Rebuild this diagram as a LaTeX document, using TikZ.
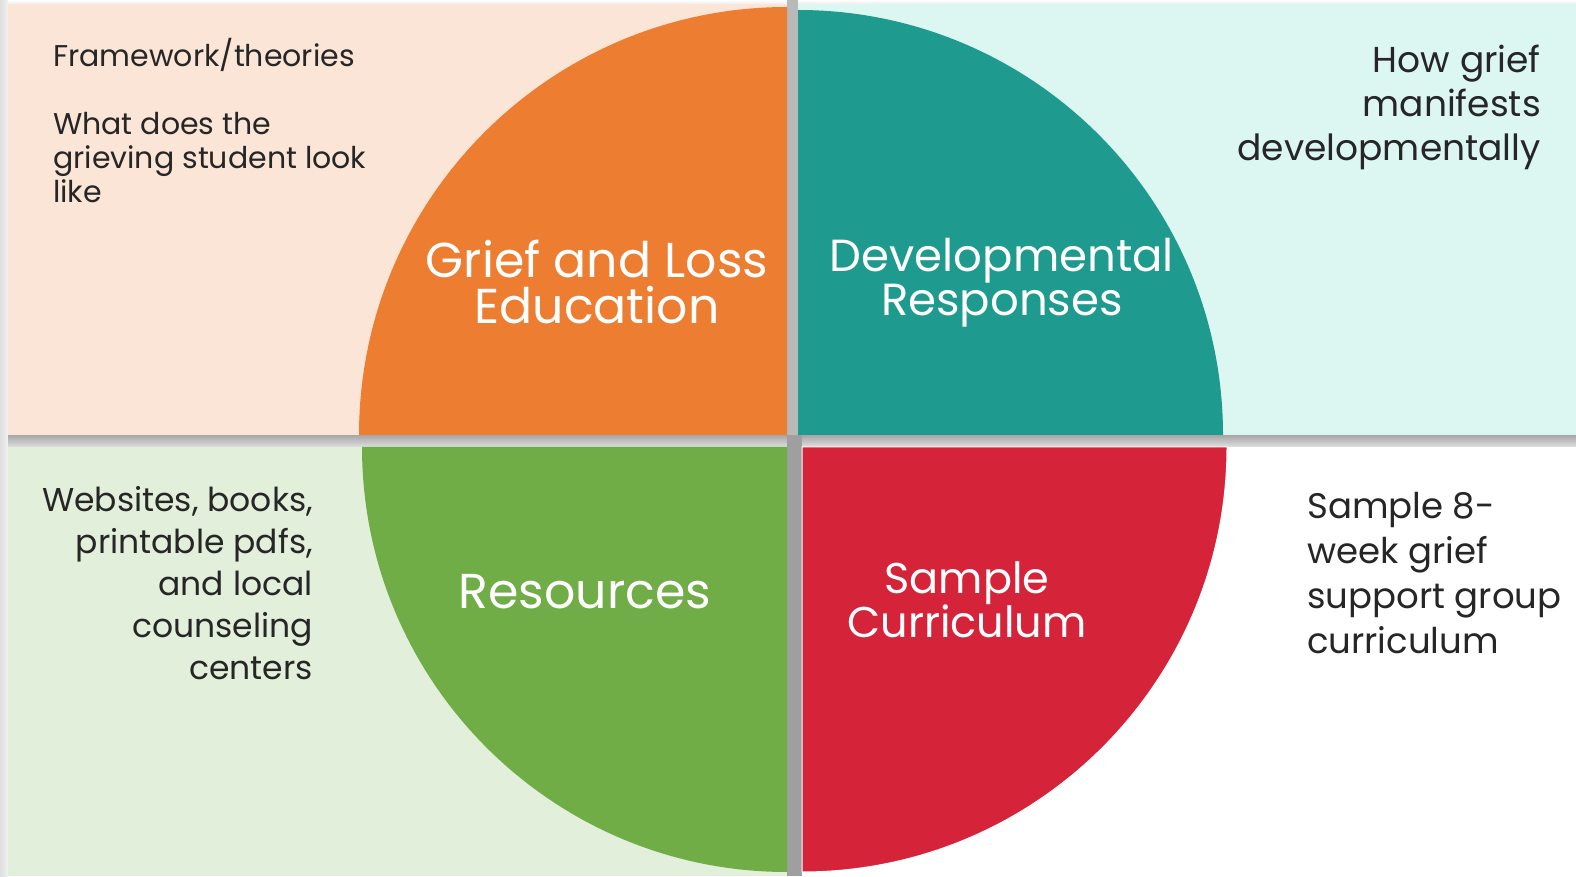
\documentclass[tikz,border=0pt]{standalone}
\usepackage{fontspec}
\setmainfont{Poppins}
\definecolor{peach}{HTML}{FBE5D7}
\definecolor{mint}{HTML}{DCF6F2}
\definecolor{sage}{HTML}{E2EFDA}
\definecolor{qorange}{HTML}{ED7D31}
\definecolor{qteal}{HTML}{1F9A8E}
\definecolor{qgreen}{HTML}{70AD47}
\definecolor{qred}{HTML}{D5243A}
\definecolor{inkgray}{HTML}{262626}
\tikzset{
  sidetext/.style={text=inkgray,inner sep=0pt},
  quartertext/.style={text=white,align=center,inner sep=0pt,font=\fontsize{49}{46}\selectfont}
}
\begin{document}
\begin{tikzpicture}[x=1pt,y=1pt]
  \useasboundingbox (0,0) rectangle (1576,876);
  % backdrop and shadows
  \fill[white] (0,0) rectangle (1576,876);
  \shade[left color=gray!25,right color=gray!12] (0,0) rectangle (8,876);
  \shade[top color=white,bottom color=gray!15] (8,872) rectangle (1576,876);
  \shade[top color=gray!70,bottom color=gray!25] (8,429) rectangle (1576,441);
  \fill[gray!75] (787,0) rectangle (802,441);
  \fill[gray!55] (787,441) rectangle (798,876);

  % quadrant panels
  \fill[peach] (8,441) rectangle (787,872);
  \fill[mint] (798,441) rectangle (1576,872);
  \fill[sage] (8,0) rectangle (787,429);

  % quarter discs
  \fill[qorange] (787,441) -- (359,441) arc[start angle=180,end angle=90,radius=428] -- cycle;
  \fill[qteal] (798,441) -- (1223,441) arc[start angle=0,end angle=90,radius=425] -- cycle;
  \fill[qgreen] (787,429) -- (362,429) arc[start angle=180,end angle=270,radius=425] -- cycle;
  \fill[qred,draw=white,line width=1pt] (802,429) -- (1227,429) arc[start angle=0,end angle=-90,radius=425] -- cycle;

  % quarter titles
  \node[quartertext] (grief) at (597,594) {Grief and Loss\\Education};
  \node[quartertext,font=\fontsize{45}{43}\selectfont] (devel) at (1002,593) {Developmental\\Responses};
  \node[quartertext] (resources) at (585,284) {Resources};
  \node[quartertext,font=\fontsize{43}{44}\selectfont] (curric) at (967,276) {Sample\\Curriculum};

  % side notes
  \node[sidetext,anchor=north west,align=left,font=\fontsize{30}{34}\selectfont] (framework) at (53,838)
    {Framework/theories\\[34pt]What does the\\grieving student look\\like};
  \node[sidetext,anchor=north east,align=right,font=\fontsize{36}{44}\selectfont] (howgrief) at (1541,831)
    {How grief\\manifests\\developmentally};
  \node[sidetext,anchor=north east,align=right,font=\fontsize{33}{42}\selectfont] (websites) at (313,390)
    {Websites, books,\\printable pdfs,\\and local\\counseling\\centers};
  \node[sidetext,anchor=north west,align=left,font=\fontsize{35.5}{45}\selectfont] (sample) at (1307,384)
    {Sample 8-\\week grief\\support group\\curriculum};
\end{tikzpicture}
\end{document}
